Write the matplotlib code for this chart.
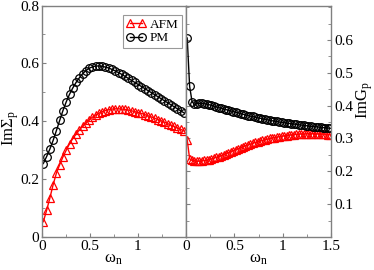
import numpy as np
import matplotlib
matplotlib.use("Agg")
import matplotlib.pyplot as plt
from matplotlib.ticker import MultipleLocator

plt.rcParams['font.family'] = ['Liberation Serif', 'DejaVu Serif']
plt.rcParams['mathtext.fontset'] = 'custom'
plt.rcParams['mathtext.rm'] = 'Liberation Serif'
plt.rcParams['mathtext.it'] = 'Liberation Serif:italic'

# Matsubara frequencies (left: Sigma data, right: G data)
T_sigma = 0.017 / np.pi
T_green = 0.0125 / np.pi
wn_sigma = np.pi * T_sigma * (2 * np.arange(44) + 1)
wn_green = np.pi * T_green * (2 * np.arange(60) + 1)

sigma_afm = [0.053, 0.092, 0.135, 0.181, 0.221, 0.250, 0.277, 0.300, 0.322, 0.340,
             0.355, 0.370, 0.383, 0.394, 0.405, 0.414, 0.422, 0.428, 0.433, 0.437,
             0.440, 0.442, 0.443, 0.443, 0.442, 0.441, 0.439, 0.436, 0.433, 0.430,
             0.427, 0.423, 0.419, 0.415, 0.411, 0.406, 0.402, 0.397, 0.392, 0.387,
             0.382, 0.377, 0.372, 0.367]
sigma_pm = [0.254, 0.278, 0.304, 0.334, 0.368, 0.403, 0.437, 0.467, 0.493, 0.515,
            0.534, 0.550, 0.564, 0.575, 0.583, 0.588, 0.591, 0.591, 0.590, 0.587,
            0.584, 0.579, 0.574, 0.568, 0.562, 0.555, 0.548, 0.541, 0.534, 0.527,
            0.520, 0.513, 0.506, 0.499, 0.492, 0.485, 0.478, 0.471, 0.464, 0.457,
            0.450, 0.443, 0.436, 0.429]

green_afm = [0.296, 0.238, 0.233, 0.232, 0.231, 0.231, 0.232, 0.233, 0.234, 0.236,
             0.238, 0.240, 0.243, 0.245, 0.248, 0.251, 0.254, 0.257, 0.260, 0.263,
             0.266, 0.269, 0.272, 0.275, 0.278, 0.280, 0.283, 0.285, 0.288, 0.290,
             0.292, 0.294, 0.296, 0.298, 0.300, 0.301, 0.303, 0.304, 0.306, 0.307,
             0.308, 0.309, 0.310, 0.311, 0.312, 0.313, 0.313, 0.314, 0.314, 0.314,
             0.315, 0.315, 0.315, 0.314, 0.314, 0.314, 0.313, 0.313, 0.312, 0.312]
green_pm = [0.606, 0.459, 0.412, 0.404, 0.406, 0.407, 0.407, 0.406, 0.405, 0.403,
            0.401, 0.399, 0.396, 0.394, 0.392, 0.390, 0.388, 0.386, 0.384, 0.382,
            0.380, 0.378, 0.376, 0.374, 0.372, 0.370, 0.368, 0.367, 0.365, 0.363,
            0.362, 0.360, 0.359, 0.357, 0.356, 0.354, 0.353, 0.352, 0.350, 0.349,
            0.348, 0.347, 0.346, 0.345, 0.344, 0.343, 0.342, 0.341, 0.340, 0.339,
            0.338, 0.337, 0.336, 0.336, 0.335, 0.334, 0.333, 0.333, 0.332, 0.331]

fig = plt.figure(figsize=(3.74, 2.70), dpi=100)
ax1 = fig.add_axes([0.1115, 0.1222, 0.3858, 0.8574])
ax2 = fig.add_axes([0.4973, 0.1222, 0.3890, 0.8574])

spine_col = '#808080'
ms = 5.5
for ax in (ax1, ax2):
    for s in ax.spines.values():
        s.set_color(spine_col)
        s.set_linewidth(1.0)
    ax.tick_params(which='both', direction='in', color=spine_col, labelsize=11,
                   pad=2)
    ax.tick_params(which='major', length=3)
    ax.tick_params(which='minor', length=2)
    ax.xaxis.set_major_locator(MultipleLocator(0.5))
    ax.xaxis.set_minor_locator(MultipleLocator(0.25))
    ax.set_xlim(0, 1.5)

ax1.plot(wn_sigma, sigma_afm, '-^', color='red', mfc='none', mec='red', ms=ms,
         mew=0.9, lw=1.0, label='AFM')
ax1.plot(wn_sigma, sigma_pm, '-o', color='black', mfc='none', mec='black', ms=ms,
         mew=0.9, lw=1.0, label='PM')
ax1.set_ylim(0, 0.8)
ax1.yaxis.set_major_locator(MultipleLocator(0.2))
ax1.yaxis.set_minor_locator(MultipleLocator(0.1))
ax1.set_xticks([0, 0.5, 1])
ax1.set_xticklabels(['0', '0.5', '1'])
ax1.set_yticks([0, 0.2, 0.4, 0.6, 0.8])
ax1.set_yticklabels(['0', '0.2', '0.4', '0.6', '0.8'])
ax1.tick_params(axis='y', which='both', right=False)
ax1.set_ylabel(r'Im$\Sigma_{\mathrm{p}}$', fontsize=12)
ax1.yaxis.set_label_coords(-0.145, 0.47)
ax1.set_xlabel(r'$\mathrm{\omega_{n}}$', fontsize=12, labelpad=-1)
leg = ax1.legend(loc='upper right', bbox_to_anchor=(1.0, 0.975), fontsize=9.5,
                 numpoints=2, handlelength=1.5, handletextpad=0.3,
                 borderpad=0.25, labelspacing=0.1, borderaxespad=0.3,
                 frameon=True, fancybox=False)
leg.get_frame().set_edgecolor(spine_col)
leg.get_frame().set_linewidth(0.8)

ax2.plot(wn_green, green_afm, '-^', color='red', mfc='none', mec='red', ms=ms,
         mew=0.9, lw=1.0)
ax2.plot(wn_green, green_pm, '-o', color='black', mfc='none', mec='black', ms=ms,
         mew=0.9, lw=1.0)
ax2.set_ylim(0, 0.705)
ax2.yaxis.set_major_locator(MultipleLocator(0.1))
ax2.yaxis.set_minor_locator(MultipleLocator(0.05))
ax2.yaxis.tick_right()
ax2.tick_params(axis='y', which='both', left=True, right=True)
ax2.yaxis.set_label_position('right')
ax2.set_yticks([0.1, 0.2, 0.3, 0.4, 0.5, 0.6])
ax2.set_yticklabels(['0.1', '0.2', '0.3', '0.4', '0.5', '0.6'])
ax2.set_xticks([0, 0.5, 1, 1.5])
ax2.set_xticklabels(['0', '0.5', '1', '1.5'])
ax2.set_ylabel(r'Im$\mathrm{G_{p}}$', fontsize=12, rotation=90)
ax2.yaxis.set_label_coords(1.155, 0.59)
ax2.set_xlabel(r'$\mathrm{\omega_{n}}$', fontsize=12, labelpad=-1)

fig.savefig('out.png', dpi=100)
